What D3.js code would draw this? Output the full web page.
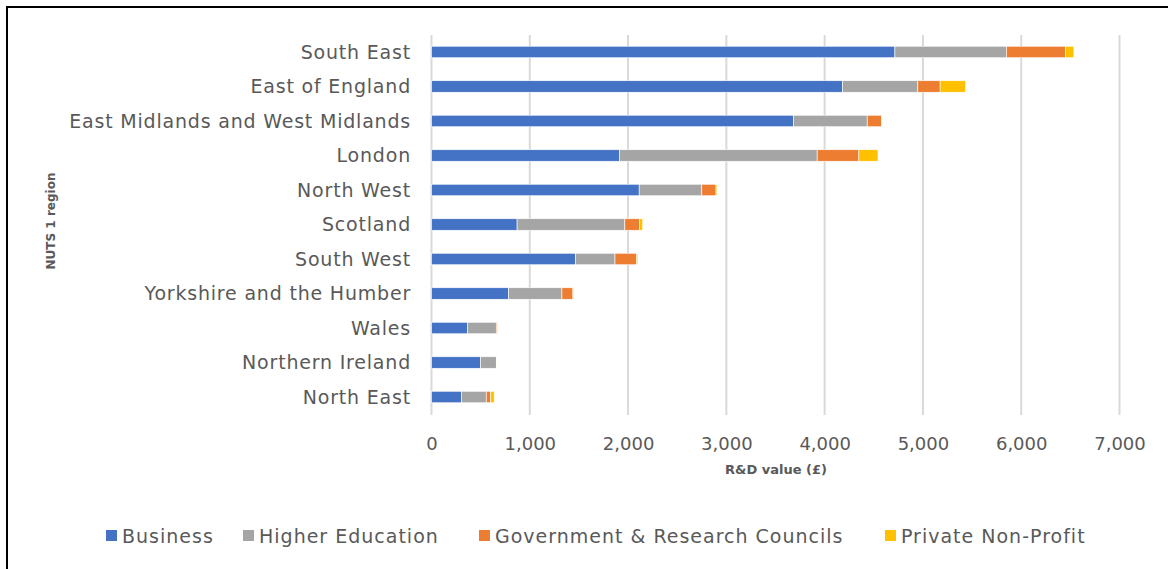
<!DOCTYPE html>
<html>
<head>
<meta charset="utf-8">
<script src="https://cdn.jsdelivr.net/npm/d3@7"></script>
<style>
  html, body { margin: 0; padding: 0; background: #fff; }
  svg { display: block; }
  text { font-family: "DejaVu Sans", sans-serif; fill: #595959; }
</style>
</head>
<body>
<svg id="chart" width="1168" height="569"></svg>
<script>
// Regional R&D expenditure by performing sector (£ million)
const regions = [
  "South East", "East of England", "East Midlands and West Midlands", "London",
  "North West", "Scotland", "South West", "Yorkshire and the Humber",
  "Wales", "Northern Ireland", "North East"
];
const sectors = ["Business", "Higher Education", "Government & Research Councils", "Private Non-Profit"];
const business         = [4715, 4183, 3683, 1912, 2113, 871, 1467, 784, 367, 499, 305];
const higherEducation  = [1134,  765,  750, 2012,  637, 1096, 400, 543, 292, 160, 252];
const government       = [ 601,  227,  146,  424,  145,  150, 218, 112,  10,   6,  44];
const privateNonProfit = [  86,  259,    5,  195,   10,   32,  14,   7,   2,   1,  37];
const xTicks = [0, 1000, 2000, 3000, 4000, 5000, 6000, 7000];
const colors = ["#4472C4", "#A5A5A5", "#ED7D31", "#FFC000"];

const rows = regions.map((r, i) => ({
  region: r,
  "Business": business[i],
  "Higher Education": higherEducation[i],
  "Government & Research Councils": government[i],
  "Private Non-Profit": privateNonProfit[i]
}));

const svg = d3.select("#chart");
const labelFont = "\"DejaVu Sans\", sans-serif";

// outer frame
svg.append("rect")
  .attr("x", 7).attr("y", 7).attr("width", 1200).attr("height", 600)
  .attr("fill", "none").attr("stroke", "#000").attr("stroke-width", 2);

const x = d3.scaleLinear().domain([0, 7000]).range([431.5, 1119.5]);
const y = d3.scaleBand().domain(regions).range([34.75, 414.25])
  .paddingInner(0.667).paddingOuter(0.333);

// vertical gridlines
svg.append("g").selectAll("line").data(xTicks).join("line")
  .attr("x1", d => x(d)).attr("x2", d => x(d))
  .attr("y1", 35).attr("y2", 415)
  .attr("stroke", "#d9d9d9").attr("stroke-width", 2);

// stacked bars
const stacked = d3.stack().keys(sectors)(rows);
const color = d3.scaleOrdinal().domain(sectors).range(colors);

svg.append("g").selectAll("g").data(stacked).join("g")
  .attr("fill", d => color(d.key))
  .selectAll("rect").data(d => d).join("rect")
  .attr("x", d => x(d[0]))
  .attr("width", d => Math.max(0, x(d[1]) - x(d[0])))
  .attr("y", d => y(d.data.region))
  .attr("height", y.bandwidth())
  .attr("stroke", "#fff").attr("stroke-width", 0.6);

// category axis labels
const yAxis = d3.axisLeft(y).tickSize(0).tickPadding(0);
const gy = svg.append("g").attr("transform", "translate(411,0)").call(yAxis);
gy.select(".domain").remove();
gy.selectAll("text")
  .style("font-family", labelFont)
  .style("font-size", "19px").style("letter-spacing", "0.8px")
  .style("fill", "#595959").attr("dy", "0.35em");

// value axis labels
const xAxis = d3.axisBottom(x).tickValues(xTicks).tickSize(0).tickPadding(0)
  .tickFormat(d3.format(","));
const gx = svg.append("g").attr("transform", "translate(0,444)").call(xAxis);
gx.select(".domain").remove();
gx.selectAll("text")
  .style("font-family", labelFont)
  .style("font-size", "18px").style("fill", "#595959").attr("dy", "0.35em").attr("y", 0);

// axis titles
svg.append("text")
  .attr("x", 776).attr("y", 469).attr("dy", "0.35em")
  .attr("text-anchor", "middle")
  .style("font-size", "13px").style("font-weight", "bold")
  .text("R&D value (£)");

svg.append("text")
  .attr("transform", "translate(51,221) rotate(-90)")
  .attr("dy", "0.35em")
  .attr("text-anchor", "middle")
  .style("font-size", "12px").style("font-weight", "bold")
  .text("NUTS 1 region");

// legend
const legendX = [106, 243, 479, 885];
const legend = svg.append("g").selectAll("g").data(sectors).join("g")
  .attr("transform", (d, i) => `translate(${legendX[i]},536)`);
legend.append("rect")
  .attr("x", 0).attr("y", -6).attr("width", 11).attr("height", 11)
  .attr("fill", d => color(d));
legend.append("text")
  .attr("x", 16).attr("y", 0).attr("dy", "0.35em")
  .style("font-size", "19px").style("letter-spacing", "1px")
  .text(d => d);
</script>
</body>
</html>
